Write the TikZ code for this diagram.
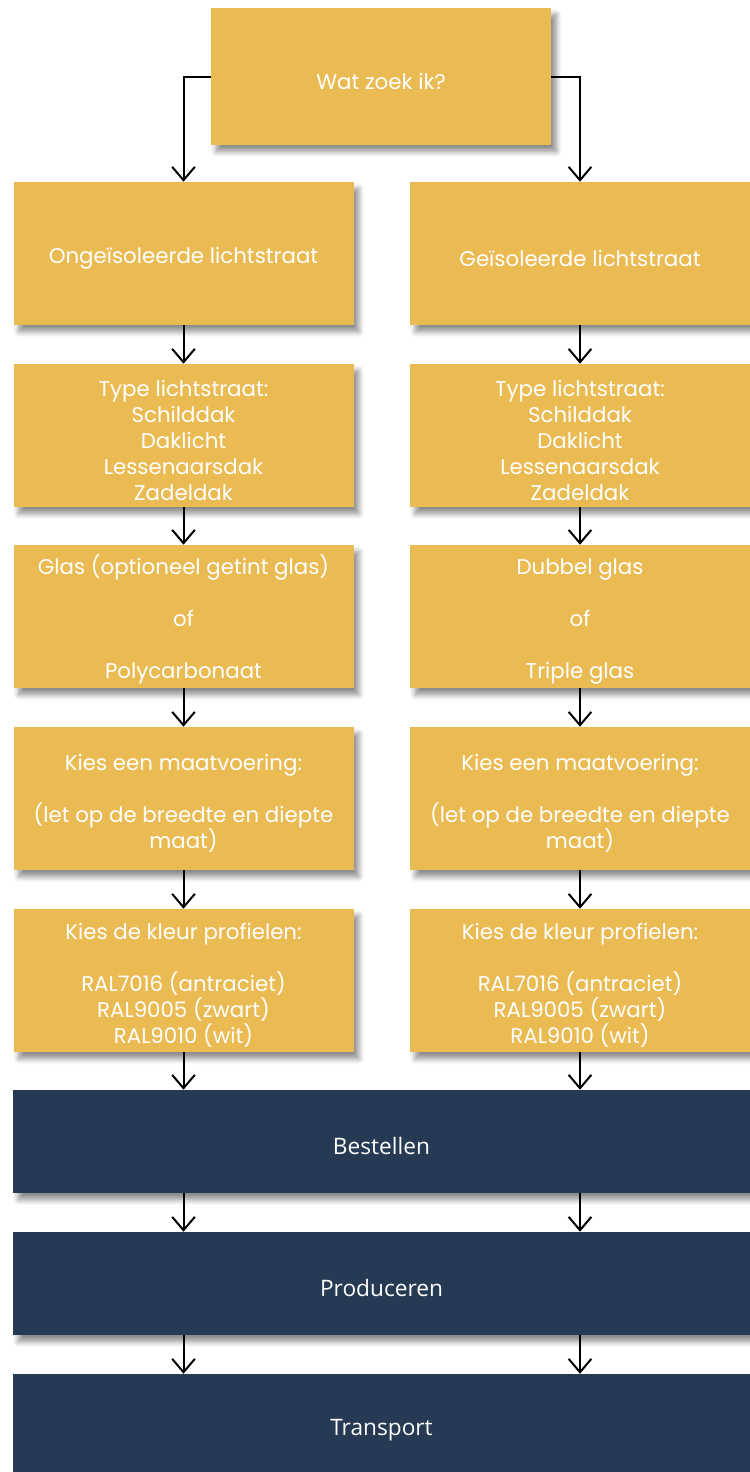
\documentclass[tikz,border=0pt]{standalone}
\usepackage{fontspec}
\setmainfont{Poppins}
\newfontfamily\fasefont{Open Sans}
\usetikzlibrary{arrows.meta,shadows.blur}
\definecolor{goud}{HTML}{EBBB53}
\definecolor{nachtblauw}{HTML}{263A53}
\newcommand{\kop}{\rule{0pt}{19pt}}

\begin{document}
\begin{tikzpicture}[x=0.75pt,y=-0.75pt,
  schaduw/.style={blur shadow={shadow xshift=4pt,shadow yshift=-5pt,shadow blur steps=8,shadow blur radius=4pt,shadow opacity=45}},
  keuze/.style={rectangle,fill=goud,text=white,inner sep=0pt,minimum width=255pt,minimum height=107.25pt,align=center,font=\fontsize{16}{19.5}\selectfont,schaduw},
  fase/.style={rectangle,fill=nachtblauw,text=white,inner sep=0pt,minimum width=552.75pt,minimum height=77.25pt,font=\fasefont\fontsize{17}{19.5}\selectfont,schaduw},
  pijl/.style={-{Straight Barb[length=10pt,width=17pt]},line width=1.5pt}]
\useasboundingbox (0,0) rectangle (750,1472);

% startvraag
\node[keuze,minimum height=102.75pt] (vraag) at (381,76.5) {\kop Wat zoek ik?};

% linker kolom
\node[keuze] (ol1) at (183.5,253.5) {\kop Onge\"isoleerde lichtstraat};
\node[keuze] (ol2) at (183.5,435.5) {\kop Type lichtstraat:\\Schilddak\\Daklicht\\Lessenaarsdak\\Zadeldak};
\node[keuze] (ol3) at (183.5,616.5) {\kop Glas (optioneel getint glas)\\[19.5pt]of\\[19.5pt]Polycarbonaat};
\node[keuze] (ol4) at (183.5,798.5) {\kop Kies een maatvoering:\\[19.5pt](let op de breedte en diepte\\maat)};
\node[keuze] (ol5) at (183.5,980.5) {\kop Kies de kleur profielen:\\[19.5pt]RAL7016 (antraciet)\\RAL9005 (zwart)\\RAL9010 (wit)};

% rechter kolom
\node[keuze] (gl1) at (580,253.5) {\kop Ge\"isoleerde lichtstraat};
\node[keuze] (gl2) at (580,435.5) {\kop Type lichtstraat:\\Schilddak\\Daklicht\\Lessenaarsdak\\Zadeldak};
\node[keuze] (gl3) at (580,616.5) {\kop Dubbel glas\\[19.5pt]of\\[19.5pt]Triple glas};
\node[keuze] (gl4) at (580,798.5) {\kop Kies een maatvoering:\\[19.5pt](let op de breedte en diepte\\maat)};
\node[keuze] (gl5) at (580,980.5) {\kop Kies de kleur profielen:\\[19.5pt]RAL7016 (antraciet)\\RAL9005 (zwart)\\RAL9010 (wit)};

% gezamenlijke fases
\node[fase] (bestellen) at (381.5,1141.5) {\kop Bestellen};
\node[fase] (produceren) at (381.5,1283.5) {\kop Produceren};
\node[fase] (transport) at (381.5,1425.5) {\kop Transport};

\draw[pijl] (vraag.west) -| (ol1.north);
\draw[pijl] (vraag.east) -| (gl1.north);
\foreach \a/\b in {1/2,2/3,3/4,4/5} {
  \draw[pijl] (ol\a) -- (ol\b);
  \draw[pijl] (gl\a) -- (gl\b);
}
\foreach \k in {ol5,gl5} {
  \draw[pijl] (\k.south) -- (\k.south |- bestellen.north);
  \draw[pijl] (bestellen.south -| \k) -- (produceren.north -| \k);
  \draw[pijl] (produceren.south -| \k) -- (transport.north -| \k);
}
\end{tikzpicture}
\end{document}
